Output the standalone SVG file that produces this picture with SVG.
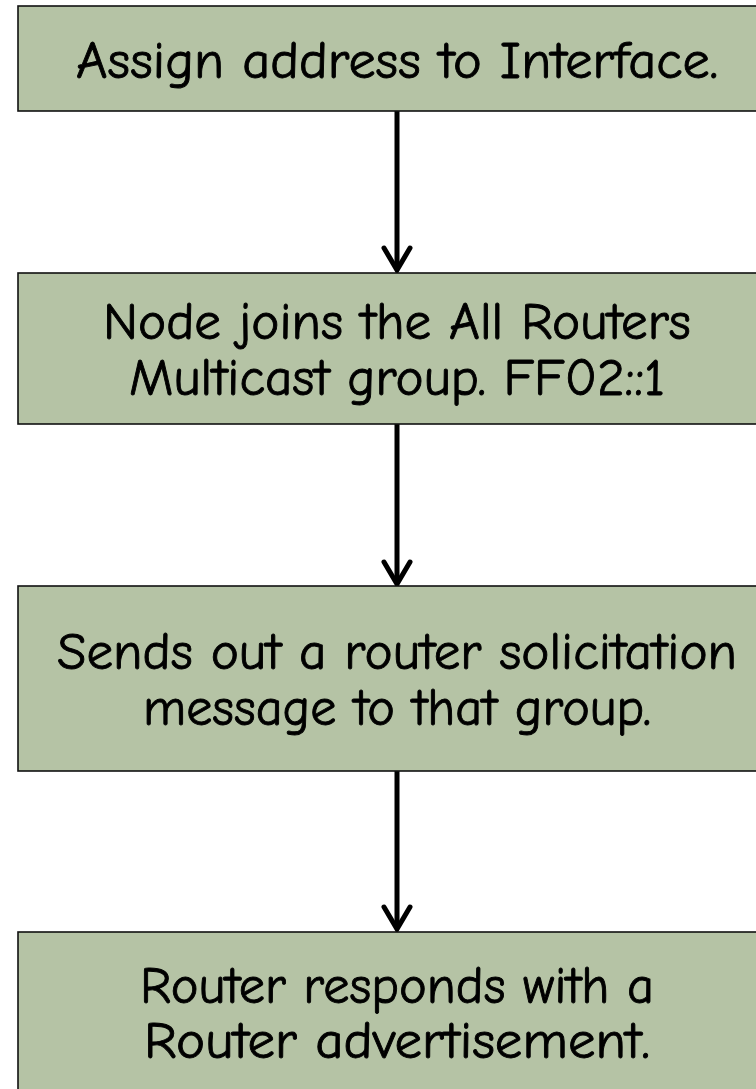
<svg xmlns="http://www.w3.org/2000/svg" width="756" height="1089" viewBox="0 0 756 1089">
  <style>
    .box { fill: #b5c3a5; stroke: #111111; stroke-width: 1.6; }
    .label { font-family: "Comic Sans MS", "Comic Neue", "Liberation Sans", sans-serif; font-size: 53px; fill: #000000; stroke: #000000; stroke-width: 0.9; text-anchor: middle; }
    .flow { stroke: #000000; stroke-width: 5; fill: none; }
    .head { stroke: #000000; stroke-width: 5; fill: none; stroke-linecap: round; stroke-linejoin: miter; }
  </style>

  <rect x="0" y="0" width="756" height="1089" fill="#ffffff"/>

  <!-- connectors -->
  <g id="connectors">
    <line class="flow" x1="397" y1="111" x2="397" y2="270"/>
    <polyline class="head" points="384,248 397,270 410,248"/>
    <line class="flow" x1="397" y1="424" x2="397" y2="584"/>
    <polyline class="head" points="384,562 397,584 410,562"/>
    <line class="flow" x1="397" y1="771" x2="397" y2="929"/>
    <polyline class="head" points="384,907 397,929 410,907"/>
  </g>

  <g id="node-assign">
    <rect class="box" x="18" y="6" width="760" height="105"/>
    <text class="label" x="397" y="78" textLength="642" lengthAdjust="spacingAndGlyphs">Assign address to Interface.</text>
  </g>

  <g id="node-join">
    <rect class="box" x="18" y="273" width="760" height="151"/>
    <text class="label" x="397" y="339" textLength="588" lengthAdjust="spacingAndGlyphs">Node joins the All Routers</text>
    <text class="label" x="397" y="395" textLength="536" lengthAdjust="spacingAndGlyphs">Multicast group. FF02::1</text>
  </g>

  <g id="node-solicit">
    <rect class="box" x="18" y="586" width="760" height="185"/>
    <text class="label" x="397" y="669" textLength="680" lengthAdjust="spacingAndGlyphs">Sends out a router solicitation</text>
    <text class="label" x="397" y="725" textLength="508" lengthAdjust="spacingAndGlyphs">message to that group.</text>
  </g>

  <g id="node-advert">
    <rect class="box" x="18" y="932" width="760" height="170"/>
    <text class="label" x="397" y="1003" textLength="514" lengthAdjust="spacingAndGlyphs">Router responds with a</text>
    <text class="label" x="397" y="1058" textLength="506" lengthAdjust="spacingAndGlyphs">Router advertisement.</text>
  </g>
</svg>
